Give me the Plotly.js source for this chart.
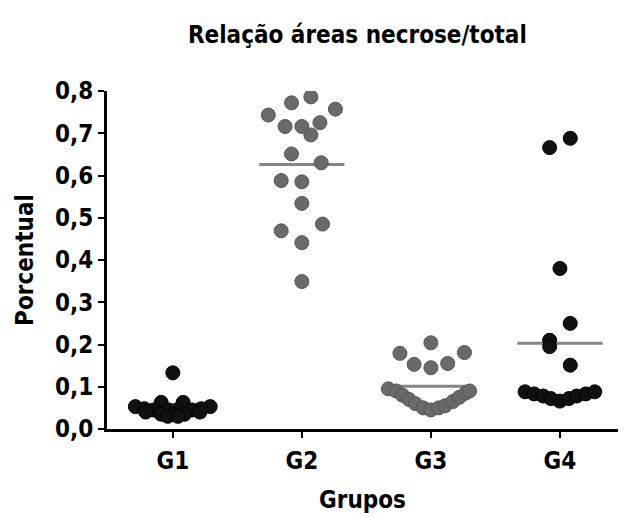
<!DOCTYPE html>
<html>
<head>
<meta charset="utf-8">
<script src="https://cdn.plot.ly/plotly-3.0.1.min.js"></script>
<style>html,body{margin:0;padding:0;background:#fff;}#chart{width:627px;height:517px;}</style>
</head>
<body>
<div id="chart"></div>
<script>
// Categories and tick labels
const groups = ["G1", "G2", "G3", "G4"];
const yTickVals = [0, 0.1, 0.2, 0.3, 0.4, 0.5, 0.6, 0.7, 0.8];
const yTickText = ["0,0", "0,1", "0,2", "0,3", "0,4", "0,5", "0,6", "0,7", "0,8"];

// Values (proportion necrosis / total area)
const g1Values = [0.133, 0.063, 0.063, 0.053, 0.053, 0.048, 0.048, 0.045, 0.045, 0.045, 0.045, 0.040, 0.040, 0.035, 0.035, 0.035, 0.030, 0.030];
const g1Jitter = [0, -0.09, 0.08, -0.29, 0.29, -0.22, 0.22, -0.15, -0.03, 0.03, 0.15, -0.21, 0.21, -0.09, 0, 0.09, -0.04, 0.04];

const g2Values = [0.772, 0.786, 0.757, 0.743, 0.716, 0.716, 0.725, 0.696, 0.651, 0.630, 0.588, 0.585, 0.534, 0.485, 0.469, 0.441, 0.349];
const g2Jitter = [-0.08, 0.07, 0.26, -0.26, -0.13, 0, 0.14, 0.07, -0.08, 0.15, -0.16, 0, 0, 0.16, -0.16, 0, 0];

const g3Values = [0.204, 0.179, 0.181, 0.153, 0.145, 0.155, 0.095, 0.090, 0.080, 0.070, 0.060, 0.050, 0.045, 0.050, 0.055, 0.065, 0.075, 0.085, 0.090];
const g3Jitter = [0, -0.24, 0.26, -0.13, 0, 0.13, -0.33, -0.27, -0.22, -0.17, -0.12, -0.06, 0, 0.06, 0.11, 0.17, 0.22, 0.27, 0.3];

const g4Values = [0.688, 0.666, 0.380, 0.250, 0.210, 0.195, 0.151, 0.088, 0.083, 0.078, 0.072, 0.066, 0.072, 0.078, 0.083, 0.088];
const g4Jitter = [0.08, -0.08, 0, 0.08, -0.08, -0.08, 0.08, -0.27, -0.2, -0.13, -0.07, 0, 0.07, 0.13, 0.2, 0.27];

const allValues = [g1Values, g2Values, g3Values, g4Values];
const allJitter = [g1Jitter, g2Jitter, g3Jitter, g4Jitter];
const pointColors = ["#111111", "#6a6a6a", "#6a6a6a", "#111111"];
const lineColor = "#858585";
const meanHalfWidth = 0.33;

const FONT = "'DejaVu Sans Condensed', 'Liberation Sans Narrow', 'Roboto', sans-serif";

const traces = [];
// mean lines (drawn below the points)
allValues.forEach((vals, i) => {
  const m = vals.reduce((a, b) => a + b, 0) / vals.length;
  traces.push({
    type: "scatter", mode: "lines",
    x: [i - meanHalfWidth, i + meanHalfWidth], y: [m, m],
    line: {color: lineColor, width: 3},
    hoverinfo: "skip", showlegend: false
  });
});
// points
allValues.forEach((vals, i) => {
  traces.push({
    type: "scatter", mode: "markers",
    name: groups[i],
    x: vals.map((v, k) => i + allJitter[i][k]),
    y: vals,
    marker: {color: pointColors[i], size: 14, line: {color: pointColors[i] === "#111111" ? "#000" : "#555", width: 1}},
    showlegend: false
  });
});

const layout = {
  width: 627, height: 517,
  margin: {l: 107, r: 9, t: 91, b: 88, pad: 0},
  paper_bgcolor: "#fff", plot_bgcolor: "#fff",
  font: {family: FONT, color: "#000", size: 24},
  title: {
    text: "<b>Relação áreas necrose/total</b>",
    font: {family: FONT, size: 24, color: "#000"},
    x: 0.49, xref: "paper", xanchor: "center",
    y: 1 - 35 / 517, yref: "container", yanchor: "middle"
  },
  xaxis: {
    range: [-0.51, 3.45],
    tickvals: [0, 1, 2, 3], ticktext: groups.map(g => "<b>" + g + "</b>"),
    showgrid: false, zeroline: false,
    showline: true, linecolor: "#000", linewidth: 3,
    ticks: "outside", ticklen: 6, tickwidth: 2, tickcolor: "#000",
    ticklabelstandoff: 2,
    tickfont: {family: FONT, size: 24, color: "#000"},
    title: {text: "<b>Grupos</b>", font: {family: FONT, size: 24, color: "#000"}, standoff: 18},
    fixedrange: true
  },
  yaxis: {
    range: [0, 0.8],
    tickvals: yTickVals, ticktext: yTickText.map(t => "<b>" + t + "</b>"),
    showgrid: false, zeroline: false,
    showline: true, linecolor: "#000", linewidth: 3,
    ticks: "outside", ticklen: 6, tickwidth: 2, tickcolor: "#000",
    tickfont: {family: FONT, size: 24, color: "#000"},
    title: {text: "<b>Porcentual</b>", font: {family: FONT, size: 24, color: "#000"}, standoff: 15},
    fixedrange: true
  },
  showlegend: false
};

Plotly.newPlot("chart", traces, layout, {displayModeBar: false, staticPlot: true});
</script>
</body>
</html>
